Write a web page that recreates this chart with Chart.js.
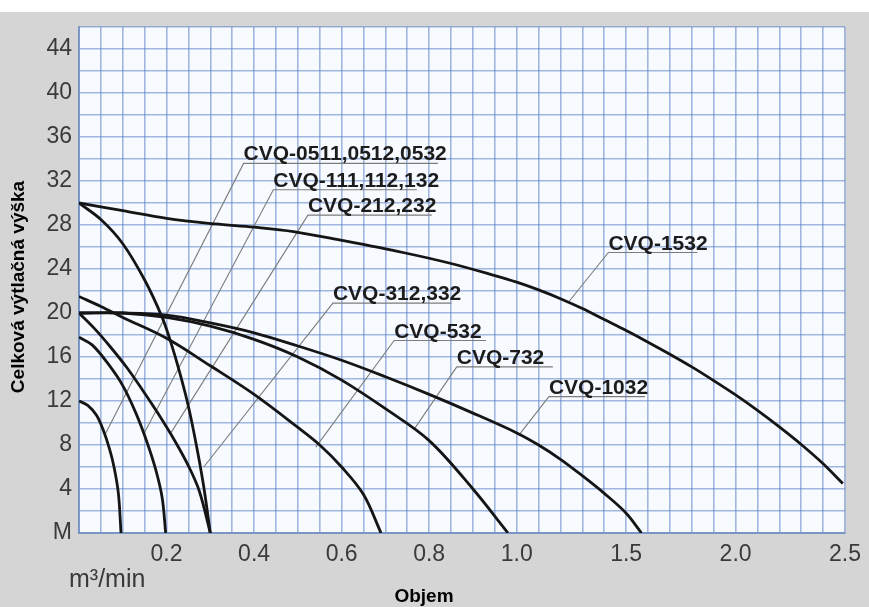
<!DOCTYPE html>
<html lang="cs">
<head>
<meta charset="UTF-8">
<title>CVQ - výtlačná výška</title>
<script src="https://cdn.jsdelivr.net/npm/chart.js"></script>
<style>
  html, body { margin: 0; padding: 0; background: #fff; }
  canvas { display: block; }
</style>
</head>
<body>
<canvas id="pumpChart" width="869" height="607"></canvas>
<script>
// flow (m3/min) vs head (m)
const cvq0511 = [[0,12],[0.02,11.6],[0.04,10.7],[0.055,9.4],[0.07,7.6],[0.08,6],[0.09,3.6],[0.096,0]];
const cvq111 = [[0,17.8],[0.03,17.1],[0.068,15.3],[0.1,13.4],[0.13,10.9],[0.155,8.3],[0.175,5.8],[0.19,3.2],[0.198,0]];
const cvq212 = [[0,20],[0.035,18.6],[0.07,17],[0.11,15],[0.145,13],[0.18,10.9],[0.22,8.3],[0.25,6.1],[0.275,3.8],[0.3,0]];
const cvq312 = [[0,30],[0.05,28.5],[0.1,26.3],[0.15,23],[0.19,19.6],[0.21,17.3],[0.23,14.6],[0.25,11.5],[0.27,7.6],[0.285,4.2],[0.3,0]];
const cvq532 = [[0,21.5],[0.05,20.6],[0.1,19.6],[0.2,17.7],[0.3,15.2],[0.4,12.6],[0.5,9.6],[0.55,8],[0.6,6],[0.65,3.5],[0.69,0]];
const cvq732 = [[0,20],[0.1,20],[0.2,19.6],[0.3,18.8],[0.4,17.6],[0.5,16],[0.6,13.9],[0.7,11.3],[0.8,8.4],[0.9,4.0],[0.98,0]];
const cvq1032 = [[0,20],[0.1,20],[0.2,19.8],[0.3,19.1],[0.4,18.2],[0.5,17],[0.6,15.7],[0.7,14.2],[0.8,12.6],[0.9,10.9],[1.0,9.1],[1.1,8.0],[1.2,6.7],[1.3,5.2],[1.4,3.6],[1.5,1.8],[1.57,0]];
const cvq1532 = [[0,30],[0.1,29.3],[0.2,28.6],[0.31,28.1],[0.4,27.8],[0.49,27.4],[0.6,26.6],[0.74,25.5],[0.85,24.5],[0.95,23.4],[1.0,22.8],[1.1,22.1],[1.2,21.3],[1.3,20.4],[1.4,19.4],[1.5,18.4],[1.6,17.35],[1.7,16.25],[1.8,15.1],[1.9,13.85],[2.0,12.55],[2.1,11.15],[2.2,9.65],[2.3,8.05],[2.4,6.3],[2.49,4.5]];

// leader lines: point on curve -> kink -> end of underline
const leader0511 = [[0.059,8.9],[0.376,33.6],[0.82,33.6]];
const leader111 = [[0.149,9.1],[0.444,31.2],[0.772,31.2]];
const leader212 = [[0.21,9.1],[0.523,28.9],[0.806,28.9]];
const leader312 = [[0.285,6],[0.58,20.9],[0.851,20.9]];
const leader532 = [[0.541,7.8],[0.72,17.5],[0.93,17.5]];
const leader732 = [[0.765,9.4],[0.863,15.1],[1.165,15.1]];
const leader1032 = [[1.01,8.9],[1.147,12.4],[1.586,12.4]];
const leader1532 = [[1.237,21],[1.419,25.5],[1.826,25.5]];

const curveNames = ['CVQ-0511,0512,0532','CVQ-111,112,132','CVQ-212,232','CVQ-312,332','CVQ-532','CVQ-732','CVQ-1032','CVQ-1532'];
const curves = [cvq0511, cvq111, cvq212, cvq312, cvq532, cvq732, cvq1032, cvq1532];
const leaders = [leader0511, leader111, leader212, leader312, leader532, leader732, leader1032, leader1532];

const xGridValues = [0,0.05,0.1,0.15,0.2,0.25,0.3,0.35,0.4,0.45,0.5,0.55,0.6,0.65,0.7,0.75,0.8,0.85,0.9,0.95,1.0,
                     1.1,1.2,1.3,1.4,1.5,1.6,1.7,1.8,1.9,2.0,2.1,2.2,2.3,2.4,2.5];
const xTickLabels = ['0.2','0.4','0.6','0.8','1.0','1.5','2.0','2.5'];
const yTickLabels = [0,4,8,12,16,20,24,28,32,36,40,44];

// x axis is finer below 1.0 (0.05 per cell) than above (0.1 per cell)
function flowToCells(v) {
  return v <= 1 ? v / 0.05 : 20 + (v - 1) / 0.1;
}
function cellsToFlow(c) {
  return c <= 20 ? c * 0.05 : 1 + (c - 20) * 0.1;
}

class PiecewiseScale extends Chart.LinearScale {
  buildTicks() {
    return xGridValues.map(v => ({ value: v }));
  }
  getPixelForValue(value) {
    if (value === null || isNaN(value)) return NaN;
    return this.getPixelForDecimal(flowToCells(value) / flowToCells(this.max));
  }
  getValueForPixel(pixel) {
    return cellsToFlow(this.getDecimalForPixel(pixel) * flowToCells(this.max));
  }
}
PiecewiseScale.id = 'piecewise';
PiecewiseScale.defaults = { ticks: { callback: Chart.Ticks.formatters.numeric } };
Chart.register(PiecewiseScale);

const toPoints = arr => arr.map(p => ({ x: p[0], y: p[1] }));

const datasets = [];
curves.forEach((c, i) => {
  datasets.push({
    label: curveNames[i],
    data: toPoints(c),
    borderColor: '#151515',
    borderWidth: 2.8,
    pointRadius: 0,
    tension: 0.35,
    order: 0
  });
});
leaders.forEach((l, i) => {
  datasets.push({
    label: curveNames[i] + ' leader',
    data: toPoints(l),
    borderColor: '#7c7c7c',
    borderWidth: 1.1,
    pointRadius: 0,
    tension: 0,
    order: 1
  });
});

const overlay = {
  id: 'overlay',
  beforeDraw(chart) {
    const { ctx, chartArea: a } = chart;
    ctx.save();
    ctx.fillStyle = '#d5d5d5';
    ctx.fillRect(0, 0, chart.width, chart.height);
    ctx.fillStyle = '#ffffff';
    ctx.fillRect(0, 0, chart.width, 12);
    ctx.fillStyle = '#f7faff';
    ctx.fillRect(a.left, a.top, a.right - a.left, a.bottom - a.top);
    ctx.restore();
  },
  afterDatasetsDraw(chart) {
    const { ctx, scales: { x, y } } = chart;
    ctx.save();
    ctx.fillStyle = '#1c1c1c';
    ctx.font = 'bold 21px "Liberation Sans", Arial, sans-serif';
    ctx.textAlign = 'left';
    ctx.textBaseline = 'alphabetic';
    leaders.forEach((l, i) => {
      const px = x.getPixelForValue(l[1][0]);
      const py = y.getPixelForValue(l[1][1]);
      ctx.fillText(curveNames[i], px, py - 3);
    });

    ctx.font = 'bold 19px "Liberation Sans", Arial, sans-serif';
    ctx.textAlign = 'center';
    ctx.textBaseline = 'middle';
    ctx.fillStyle = '#000';
    ctx.fillText('Objem', 424, 597);

    ctx.save();
    ctx.translate(19, 287);
    ctx.rotate(-Math.PI / 2);
    ctx.fillText('Celková výtlačná výška', 0, 0);
    ctx.restore();

    ctx.font = '25px "Liberation Sans", Arial, sans-serif';
    ctx.fillStyle = '#3a3a3a';
    ctx.textAlign = 'left';
    ctx.fillText('m³/min', 69, 580);
    ctx.restore();
  }
};

const gridColor = 'rgba(92, 128, 198, 0.55)';

new Chart(document.getElementById('pumpChart'), {
  type: 'line',
  data: { datasets },
  options: {
    responsive: false,
    animation: false,
    layout: { padding: { top: 27, right: 17, left: 0, bottom: 0 } },
    plugins: { legend: { display: false }, tooltip: { enabled: false } },
    scales: {
      x: {
        type: 'piecewise',
        min: 0,
        max: 2.5,
        afterFit(scale) { scale.height = 74; },
        grid: { color: gridColor, lineWidth: 1.6, drawTicks: false },
        border: { display: true, color: 'rgba(110,140,190,0.8)', width: 2 },
        ticks: {
          autoSkip: false,
          maxRotation: 0,
          padding: 8,
          color: '#3a3a3a',
          font: { family: '"Liberation Sans", Arial, sans-serif', size: 23 },
          callback(value) {
            const s = value.toFixed(1);
            return (xTickLabels.includes(s) && Math.abs(value - Number(s)) < 1e-6) ? s : '';
          }
        }
      },
      y: {
        type: 'linear',
        min: 0,
        max: 46,
        afterFit(scale) { scale.width = 79; },
        grid: { color: gridColor, lineWidth: 1.6, drawTicks: false },
        border: { display: true, color: 'rgba(110,140,190,0.8)', width: 2 },
        ticks: {
          stepSize: 2,
          autoSkip: false,
          padding: 7,
          color: '#3a3a3a',
          font: { family: '"Liberation Sans", Arial, sans-serif', size: 23 },
          callback(value) {
            if (!yTickLabels.includes(value)) return '';
            return value === 0 ? 'M' : String(value);
          }
        }
      }
    }
  },
  plugins: [overlay]
});
</script>
</body>
</html>
